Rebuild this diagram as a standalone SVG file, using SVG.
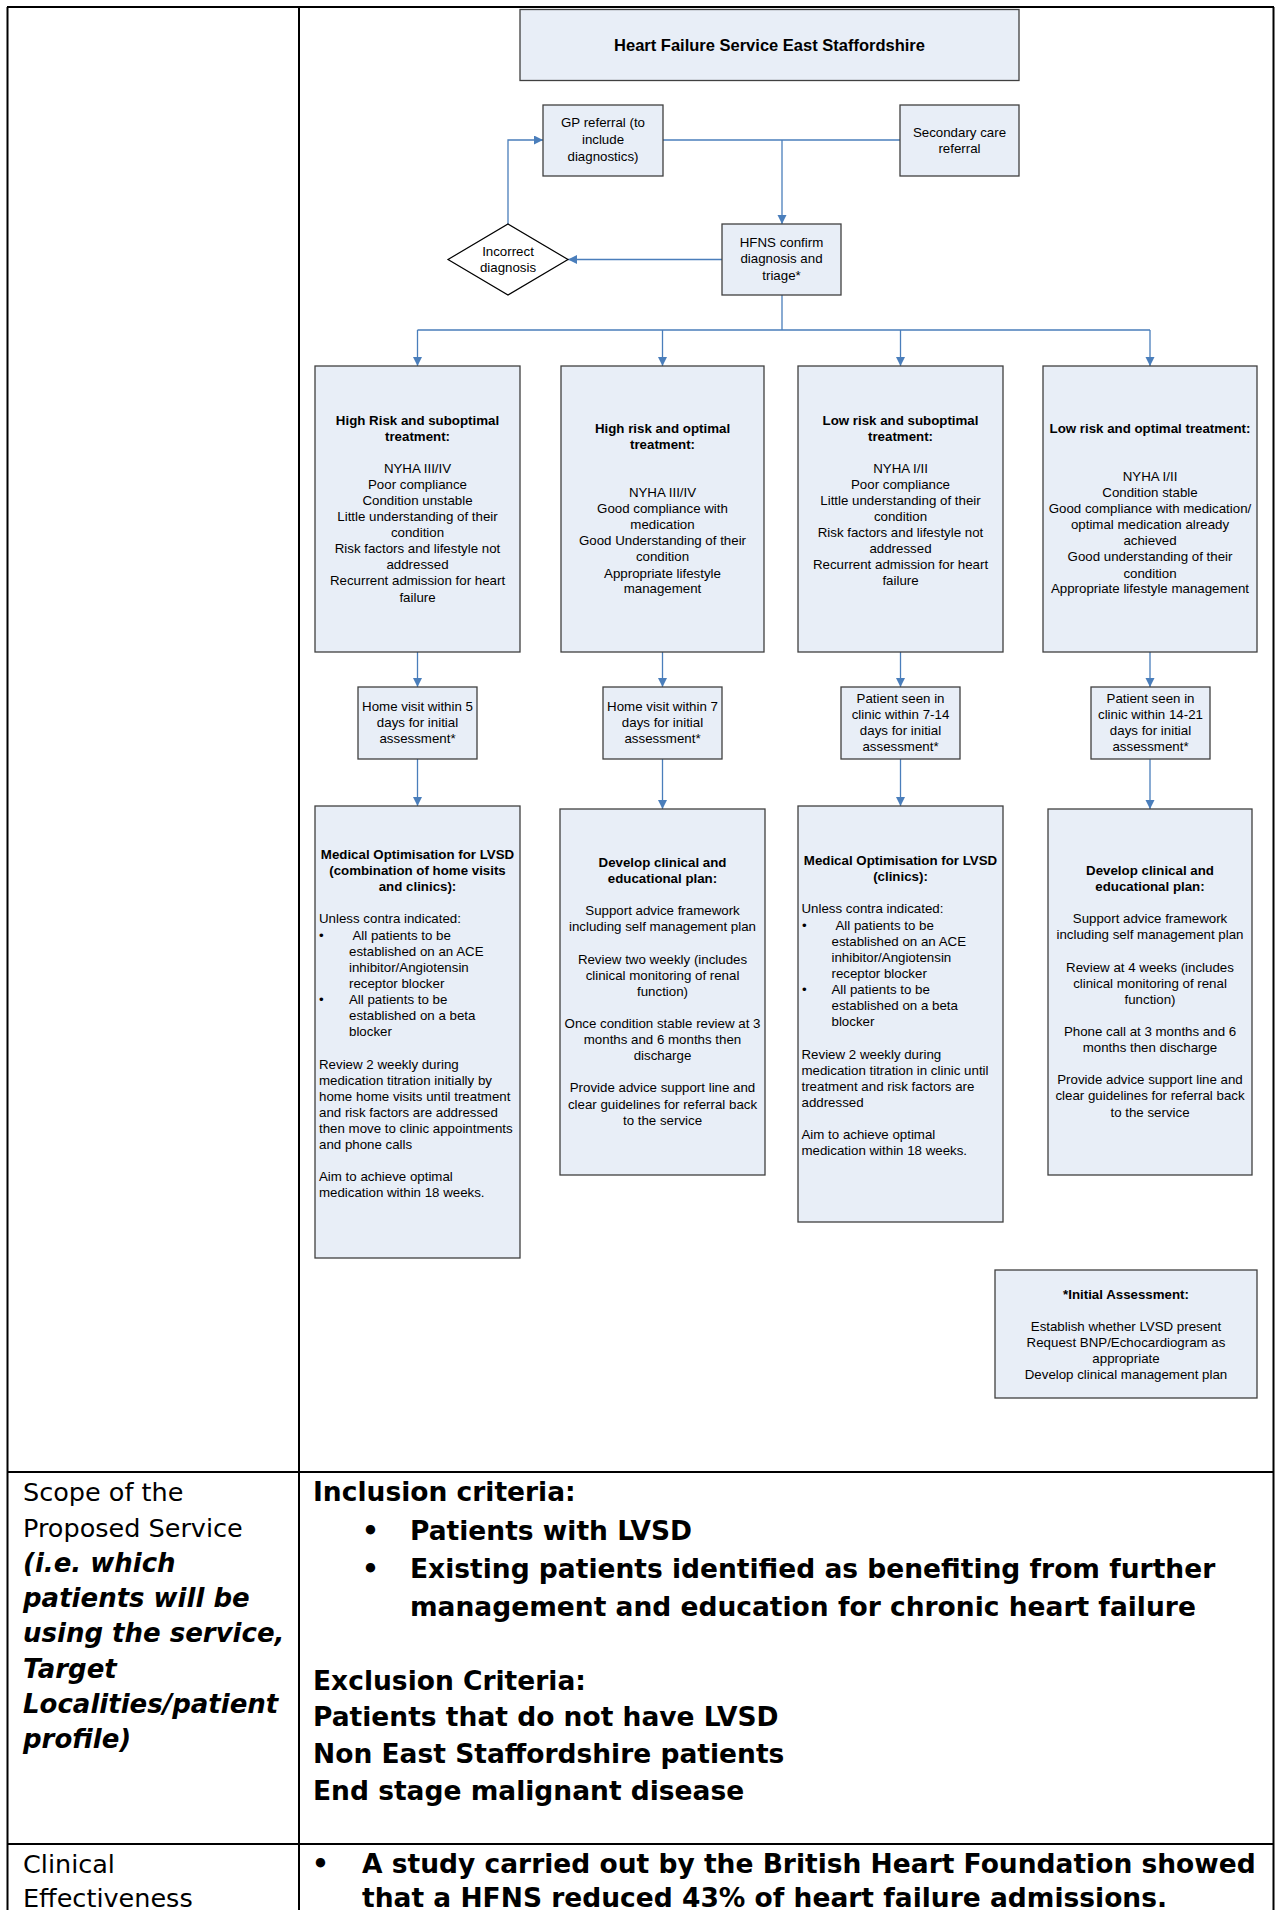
<svg xmlns="http://www.w3.org/2000/svg" width="1275" height="1910" viewBox="0 0 1275 1910">
<defs>
<marker id="arr" markerUnits="userSpaceOnUse" markerWidth="10" markerHeight="10" refX="9" refY="4.5" orient="auto">
<path d="M0,0 L9,4.5 L0,9 z" fill="#4A7EBB"/>
</marker>
<style>
.box{fill:#E8EEF7;stroke:#404040;stroke-width:1.3}
.t{font-family:"Liberation Sans",Arial,sans-serif;font-size:13.3px;fill:#000;text-anchor:middle}
.b{font-weight:bold}
.l{text-anchor:start}
.c{stroke:#4A7EBB;stroke-width:1.3;fill:none}
.a{marker-end:url(#arr)}
.tbl{stroke:#000;stroke-width:2;fill:none}
.lc{font-family:"DejaVu Sans",Verdana,sans-serif;font-size:25.5px;fill:#000}
.lci{font-family:"DejaVu Sans",Verdana,sans-serif;font-size:26px;font-weight:bold;font-style:italic;fill:#000}
.rc{font-family:"DejaVu Sans",Verdana,sans-serif;font-size:26.5px;font-weight:bold;fill:#000}
</style>
</defs>
<rect width="1275" height="1910" fill="#fff"/>

<g id="table">
<path class="tbl" d="M7,7 H1274 M7.5,7 V1910 M1273.5,7 V1910 M299,7 V1910 M7,1472 H1274 M7,1844 H1274"/>
</g>

<g id="connectors">
<path class="c" d="M663,140 H900"/>
<path class="c a" d="M782,140 V224"/>
<path class="c a" d="M722,259.5 H568"/>
<path class="c a" d="M508,224 V140 H543"/>
<path class="c" d="M782,295 V330 M417.5,330 H1150"/>
<path class="c a" d="M417.5,330 V366"/>
<path class="c a" d="M662.5,330 V366"/>
<path class="c a" d="M900.5,330 V366"/>
<path class="c a" d="M1150,330 V366"/>
<path class="c a" d="M417.5,652 V687"/>
<path class="c a" d="M662.5,652 V687"/>
<path class="c a" d="M900.5,652 V687"/>
<path class="c a" d="M1150,652 V687"/>
<path class="c a" d="M417.5,759 V806"/>
<path class="c a" d="M662.5,759 V809"/>
<path class="c a" d="M900.5,759 V806"/>
<path class="c a" d="M1150,759 V809"/>
</g>

<g id="title">
<rect class="box" x="520" y="9.5" width="499" height="71"/>
<text class="t b" x="769.5" y="51" style="font-size:16.5px">Heart Failure Service East Staffordshire</text>
</g>

<g id="gp-referral">
<rect class="box" x="543" y="105" width="120" height="71"/>
<text class="t" x="603" y="127">GP referral (to</text>
<text class="t" x="603" y="144">include</text>
<text class="t" x="603" y="161">diagnostics)</text>
</g>

<g id="secondary-care">
<rect class="box" x="900" y="105" width="119" height="71"/>
<text class="t" x="959.5" y="137">Secondary care</text>
<text class="t" x="959.5" y="153">referral</text>
</g>

<g id="hfns">
<rect class="box" x="722" y="224" width="119" height="71"/>
<text class="t" x="781.5" y="247">HFNS confirm</text>
<text class="t" x="781.5" y="263">diagnosis and</text>
<text class="t" x="781.5" y="280">triage*</text>
</g>

<g id="incorrect-diagnosis">
<path d="M508,224 L568,259.5 L508,295 L448,259.5 z" fill="#fff" stroke="#000" stroke-width="1.2"/>
<text class="t" x="508" y="256">Incorrect</text>
<text class="t" x="508" y="272">diagnosis</text>
</g>

<g id="high-risk-suboptimal">
<rect class="box" x="315" y="366" width="205" height="286"/>
<text class="t b" x="417.5" y="424.5">High Risk and suboptimal</text>
<text class="t b" x="417.5" y="440.5">treatment:</text>
<text class="t" x="417.5" y="472.5">NYHA III/IV</text>
<text class="t" x="417.5" y="488.5">Poor compliance</text>
<text class="t" x="417.5" y="504.5">Condition unstable</text>
<text class="t" x="417.5" y="520.5">Little understanding of their</text>
<text class="t" x="417.5" y="536.5">condition</text>
<text class="t" x="417.5" y="552.5">Risk factors and lifestyle not</text>
<text class="t" x="417.5" y="568.5">addressed</text>
<text class="t" x="417.5" y="584.5">Recurrent admission for heart</text>
<text class="t" x="417.5" y="601.5">failure</text>
</g>

<g id="high-risk-optimal">
<rect class="box" x="561" y="366" width="203" height="286"/>
<text class="t b" x="662.5" y="433">High risk and optimal</text>
<text class="t b" x="662.5" y="449">treatment:</text>
<text class="t" x="662.5" y="497">NYHA III/IV</text>
<text class="t" x="662.5" y="513">Good compliance with</text>
<text class="t" x="662.5" y="529">medication</text>
<text class="t" x="662.5" y="545">Good Understanding of their</text>
<text class="t" x="662.5" y="561">condition</text>
<text class="t" x="662.5" y="578">Appropriate lifestyle</text>
<text class="t" x="662.5" y="593">management</text>
</g>

<g id="low-risk-suboptimal">
<rect class="box" x="798" y="366" width="205" height="286"/>
<text class="t b" x="900.5" y="424.5">Low risk and suboptimal</text>
<text class="t b" x="900.5" y="440.5">treatment:</text>
<text class="t" x="900.5" y="472.5">NYHA I/II</text>
<text class="t" x="900.5" y="488.5">Poor compliance</text>
<text class="t" x="900.5" y="504.5">Little understanding of their</text>
<text class="t" x="900.5" y="520.5">condition</text>
<text class="t" x="900.5" y="536.5">Risk factors and lifestyle not</text>
<text class="t" x="900.5" y="552.5">addressed</text>
<text class="t" x="900.5" y="568.5">Recurrent admission for heart</text>
<text class="t" x="900.5" y="584.5">failure</text>
</g>

<g id="low-risk-optimal">
<rect class="box" x="1043" y="366" width="214" height="286"/>
<text class="t b" x="1150" y="433">Low risk and optimal treatment:</text>
<text class="t" x="1150" y="481">NYHA I/II</text>
<text class="t" x="1150" y="497">Condition stable</text>
<text class="t" x="1150" y="513">Good compliance with medication/</text>
<text class="t" x="1150" y="529">optimal medication already</text>
<text class="t" x="1150" y="545">achieved</text>
<text class="t" x="1150" y="561">Good understanding of their</text>
<text class="t" x="1150" y="578">condition</text>
<text class="t" x="1150" y="593">Appropriate lifestyle management</text>
</g>

<g id="home-visit-5">
<rect class="box" x="358" y="687" width="119" height="72"/>
<text class="t" x="417.5" y="710.5">Home visit within 5</text>
<text class="t" x="417.5" y="726.5">days for initial</text>
<text class="t" x="417.5" y="742.5">assessment*</text>
</g>

<g id="home-visit-7">
<rect class="box" x="603" y="687" width="119" height="72"/>
<text class="t" x="662.5" y="710.5">Home visit within 7</text>
<text class="t" x="662.5" y="726.5">days for initial</text>
<text class="t" x="662.5" y="742.5">assessment*</text>
</g>

<g id="clinic-7-14">
<rect class="box" x="841" y="687" width="119" height="72"/>
<text class="t" x="900.5" y="702.5">Patient seen in</text>
<text class="t" x="900.5" y="718.5">clinic within 7-14</text>
<text class="t" x="900.5" y="734.5">days for initial</text>
<text class="t" x="900.5" y="750.5">assessment*</text>
</g>

<g id="clinic-14-21">
<rect class="box" x="1091" y="687" width="119" height="72"/>
<text class="t" x="1150.5" y="702.5">Patient seen in</text>
<text class="t" x="1150.5" y="718.5">clinic within 14-21</text>
<text class="t" x="1150.5" y="734.5">days for initial</text>
<text class="t" x="1150.5" y="750.5">assessment*</text>
</g>

<g id="medical-optimisation-home">
<rect class="box" x="315" y="806" width="205" height="452"/>
<text class="t b" x="417.5" y="859">Medical Optimisation for LVSD</text>
<text class="t b" x="417.5" y="875">(combination of home visits</text>
<text class="t b" x="417.5" y="891">and clinics):</text>
<text class="t l" x="319" y="923">Unless contra indicated:</text>
<text class="t l" x="319" y="940">•</text>
<text class="t l" x="352.5" y="940">All patients to be</text>
<text class="t l" x="349" y="956">established on an ACE</text>
<text class="t l" x="349" y="972">inhibitor/Angiotensin</text>
<text class="t l" x="349" y="988">receptor blocker</text>
<text class="t l" x="319" y="1004">•</text>
<text class="t l" x="349" y="1004">All patients to be</text>
<text class="t l" x="349" y="1020">established on a beta</text>
<text class="t l" x="349" y="1036">blocker</text>
<text class="t l" x="319" y="1069">Review 2 weekly during</text>
<text class="t l" x="319" y="1085">medication titration initially by</text>
<text class="t l" x="319" y="1101">home home visits until treatment</text>
<text class="t l" x="319" y="1117">and risk factors are addressed</text>
<text class="t l" x="319" y="1133">then move to clinic appointments</text>
<text class="t l" x="319" y="1149">and phone calls</text>
<text class="t l" x="319" y="1181">Aim to achieve optimal</text>
<text class="t l" x="319" y="1197">medication within 18 weeks.</text>
</g>

<g id="develop-plan-high">
<rect class="box" x="560" y="809" width="205" height="366"/>
<text class="t b" x="662.5" y="867">Develop clinical and</text>
<text class="t b" x="662.5" y="883">educational plan:</text>
<text class="t" x="662.5" y="915">Support advice framework</text>
<text class="t" x="662.5" y="931">including self management plan</text>
<text class="t" x="662.5" y="964">Review two weekly (includes</text>
<text class="t" x="662.5" y="980">clinical monitoring of renal</text>
<text class="t" x="662.5" y="996">function)</text>
<text class="t" x="662.5" y="1028">Once condition stable review at 3</text>
<text class="t" x="662.5" y="1044">months and 6 months then</text>
<text class="t" x="662.5" y="1060">discharge</text>
<text class="t" x="662.5" y="1092">Provide advice support line and</text>
<text class="t" x="662.5" y="1109">clear guidelines for referral back</text>
<text class="t" x="662.5" y="1125">to the service</text>
</g>

<g id="medical-optimisation-clinics">
<rect class="box" x="798" y="806" width="205" height="416"/>
<text class="t b" x="900.5" y="865">Medical Optimisation for LVSD</text>
<text class="t b" x="900.5" y="881">(clinics):</text>
<text class="t l" x="801.5" y="913">Unless contra indicated:</text>
<text class="t l" x="802" y="930">•</text>
<text class="t l" x="835.5" y="930">All patients to be</text>
<text class="t l" x="831.5" y="946">established on an ACE</text>
<text class="t l" x="831.5" y="962">inhibitor/Angiotensin</text>
<text class="t l" x="831.5" y="978">receptor blocker</text>
<text class="t l" x="802" y="994">•</text>
<text class="t l" x="831.5" y="994">All patients to be</text>
<text class="t l" x="831.5" y="1010">established on a beta</text>
<text class="t l" x="831.5" y="1026">blocker</text>
<text class="t l" x="801.5" y="1059">Review 2 weekly during</text>
<text class="t l" x="801.5" y="1075">medication titration in clinic until</text>
<text class="t l" x="801.5" y="1091">treatment and risk factors are</text>
<text class="t l" x="801.5" y="1107">addressed</text>
<text class="t l" x="801.5" y="1139">Aim to achieve optimal</text>
<text class="t l" x="801.5" y="1155">medication within 18 weeks.</text>
</g>

<g id="develop-plan-low">
<rect class="box" x="1048" y="809" width="204" height="366"/>
<text class="t b" x="1150" y="875">Develop clinical and</text>
<text class="t b" x="1150" y="891">educational plan:</text>
<text class="t" x="1150" y="923">Support advice framework</text>
<text class="t" x="1150" y="939">including self management plan</text>
<text class="t" x="1150" y="972">Review at 4 weeks (includes</text>
<text class="t" x="1150" y="988">clinical monitoring of renal</text>
<text class="t" x="1150" y="1004">function)</text>
<text class="t" x="1150" y="1036">Phone call at 3 months and 6</text>
<text class="t" x="1150" y="1052">months then discharge</text>
<text class="t" x="1150" y="1084">Provide advice support line and</text>
<text class="t" x="1150" y="1100">clear guidelines for referral back</text>
<text class="t" x="1150" y="1116.5">to the service</text>
</g>

<g id="initial-assessment">
<rect class="box" x="995" y="1270" width="262" height="128"/>
<text class="t b" x="1126" y="1298.5">*Initial Assessment:</text>
<text class="t" x="1126" y="1330.5">Establish whether LVSD present</text>
<text class="t" x="1126" y="1346.5">Request BNP/Echocardiogram as</text>
<text class="t" x="1126" y="1362.5">appropriate</text>
<text class="t" x="1126" y="1378.5">Develop clinical management plan</text>
</g>

<g id="scope-label">
<text class="lc" x="23" y="1501">Scope of the</text>
<text class="lc" x="23" y="1536.5">Proposed Service</text>
<text class="lci" x="23" y="1572">(i.e. which</text>
<text class="lci" x="23" y="1607">patients will be</text>
<text class="lci" x="23" y="1642">using the service,</text>
<text class="lci" x="23" y="1678">Target</text>
<text class="lci" x="23" y="1713">Localities/patient</text>
<text class="lci" x="23" y="1748">profile)</text>
</g>

<g id="scope-content">
<text class="rc" x="313" y="1501">Inclusion criteria:</text>
<text class="rc" x="362" y="1540">•</text>
<text class="rc" x="410" y="1540">Patients with LVSD</text>
<text class="rc" x="362" y="1578">•</text>
<text class="rc" x="410" y="1578">Existing patients identified as benefiting from further</text>
<text class="rc" x="410" y="1616">management and education for chronic heart failure</text>
<text class="rc" x="313" y="1690">Exclusion Criteria:</text>
<text class="rc" x="313" y="1726">Patients that do not have LVSD</text>
<text class="rc" x="313" y="1763">Non East Staffordshire patients</text>
<text class="rc" x="313" y="1800">End stage malignant disease</text>
</g>

<g id="clinical-label">
<text class="lc" x="23" y="1873">Clinical</text>
<text class="lc" x="23" y="1907">Effectiveness</text>
</g>

<g id="clinical-content">
<text class="rc" x="312" y="1873">•</text>
<text class="rc" x="362" y="1873">A study carried out by the British Heart Foundation showed</text>
<text class="rc" x="362" y="1907">that a HFNS reduced 43% of heart failure admissions.</text>
</g>
</svg>
